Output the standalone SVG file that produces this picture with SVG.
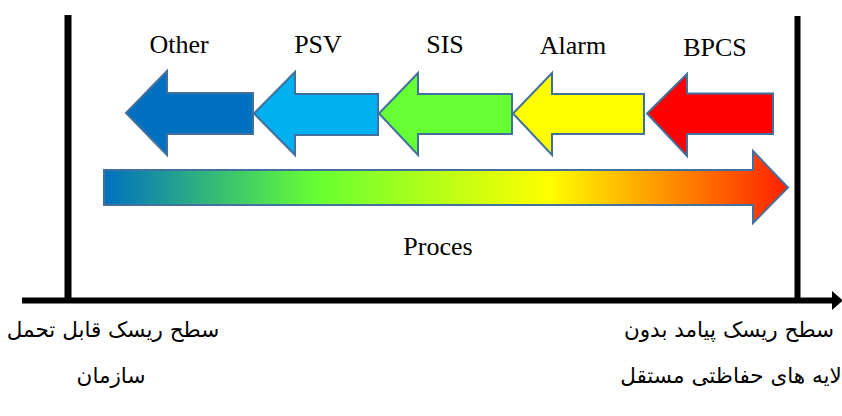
<svg xmlns="http://www.w3.org/2000/svg" width="842" height="416" viewBox="0 0 842 416">
<style>
.lbl{font-family:"Liberation Serif","Times New Roman",serif;font-size:26px;fill:#000;text-anchor:middle}
.fa{font-family:"DejaVu Sans","Noto Sans",sans-serif;font-size:21.5px;fill:#000;text-anchor:middle}
.arr{stroke:#41719C;stroke-width:2;stroke-linejoin:miter}
.axis{stroke:#000;fill:none}
</style>
<defs>
<linearGradient id="g" x1="104" y1="0" x2="788" y2="0" gradientUnits="userSpaceOnUse">
<stop offset="0" stop-color="#0070C0"/>
<stop offset="0.31" stop-color="#66FF33"/>
<stop offset="0.65" stop-color="#FFFF00"/>
<stop offset="0.8" stop-color="#FFA000"/>
<stop offset="1" stop-color="#FF2000"/>
</linearGradient>
</defs>
<g id="axes">
<line class="axis" x1="68" y1="15" x2="68" y2="300" stroke-width="7"/>
<line class="axis" x1="797.5" y1="16" x2="797.5" y2="300" stroke-width="6"/>
<line class="axis" x1="22" y1="300.5" x2="834" y2="300.5" stroke-width="6"/>
<polygon points="832,291 843,300.5 832,310" fill="#000"/>
</g>
<g id="other">
<polygon class="arr" fill="#0070C0" points="126,113 167,71 167,93 253,93 253,134 167,134 167,155"/>
<text class="lbl" x="179" y="53">Other</text>
</g>
<g id="psv">
<polygon class="arr" fill="#00B0F0" points="254,113.5 295,72 295,94 378,94 378,135 295,135 295,155"/>
<text class="lbl" x="318" y="53">PSV</text>
</g>
<g id="sis">
<polygon class="arr" fill="#66FF33" points="379,113.5 418,73 418,94 512,94 512,134 418,134 418,155"/>
<text class="lbl" x="445" y="53">SIS</text>
</g>
<g id="alarm">
<polygon class="arr" fill="#FFFF00" points="513,113.5 552,73 552,94 644,94 644,134 552,134 552,155"/>
<text class="lbl" x="573" y="54">Alarm</text>
</g>
<g id="bpcs">
<polygon class="arr" fill="#FF0000" points="647,113.5 687,74 687,93.5 773,93.5 773,134 687,134 687,156"/>
<text class="lbl" x="715" y="56">BPCS</text>
</g>
<g id="process">
<polygon class="arr" fill="url(#g)" points="104,170 753,170 753,151 788,187.5 753,223 753,205 104,205"/>
<text class="lbl" x="438" y="255">Proces</text>
</g>
<g id="left-label">
<text class="fa" x="113" y="337">سطح ریسک قابل تحمل</text>
<text class="fa" x="111" y="383">سازمان</text>
</g>
<g id="right-label">
<text class="fa" x="729" y="337">سطح ریسک پیامد بدون</text>
<text class="fa" x="731" y="383">لایه های حفاظتی مستقل</text>
</g>
</svg>
